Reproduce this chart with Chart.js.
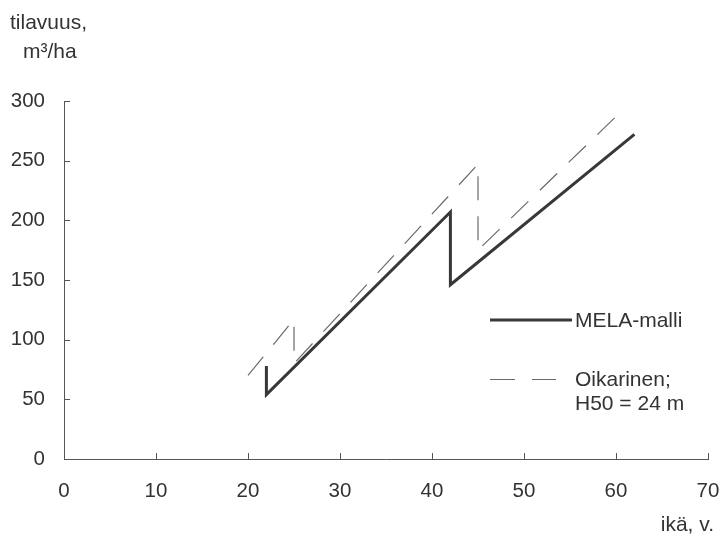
<!DOCTYPE html>
<html>
<head>
<meta charset="utf-8">
<script src="https://cdn.jsdelivr.net/npm/chart.js@4/dist/chart.umd.min.js"></script>
<style>
  html, body { margin: 0; padding: 0; background: #fff; }
</style>
</head>
<body>
<canvas id="volumeChart" width="724" height="535"></canvas>
<script>
// tilavuus (m3/ha) iän mukaan, kaksi mallia
const melaAge = [22, 22, 42, 42, 62];
const melaVolume = [78, 54, 207, 146, 272];
const oikAge = [20, 25, 25, 45, 45, 60];
const oikVolume = [70, 117, 80, 247, 175, 287];

const ageTicks = [0, 10, 20, 30, 40, 50, 60, 70];
const volumeTicks = [0, 50, 100, 150, 200, 250, 300];

const FONT = '"Liberation Sans", Arial, Helvetica, sans-serif';
const TEXT = '#333';
const AXIS = '#555';

const toPoints = (xs, ys) => xs.map((x, i) => ({ x: x, y: ys[i] }));

// short tick marks pointing into the plot, plus the free-standing texts
const decorations = {
    id: 'decorations',
    afterDraw(chart) {
        const { ctx, scales: { x, y } } = chart;
        ctx.save();
        ctx.strokeStyle = AXIS;
        ctx.lineWidth = 1;
        ctx.beginPath();
        ageTicks.slice(1).forEach(v => {
            const px = Math.round(x.getPixelForValue(v)) + 0.5;
            ctx.moveTo(px, y.bottom);
            ctx.lineTo(px, y.bottom - 6);
        });
        volumeTicks.slice(1).forEach(v => {
            const py = Math.round(y.getPixelForValue(v)) + 0.5;
            ctx.moveTo(x.left, py);
            ctx.lineTo(x.left + 6, py);
        });
        ctx.stroke();

        ctx.fillStyle = TEXT;
        ctx.font = '21px ' + FONT;
        ctx.textBaseline = 'alphabetic';
        ctx.textAlign = 'left';
        ctx.fillText('tilavuus,', 10, 29);
        ctx.fillText('m³/ha', 23, 58);
        ctx.textAlign = 'right';
        ctx.fillText('ikä, v.', 714, 531);

        // legend
        const mela = chart.data.datasets[0];
        const oik = chart.data.datasets[1];
        ctx.textAlign = 'left';
        ctx.textBaseline = 'middle';

        ctx.strokeStyle = mela.borderColor;
        ctx.lineWidth = mela.borderWidth;
        ctx.beginPath();
        ctx.moveTo(490, 320);
        ctx.lineTo(572, 320);
        ctx.stroke();
        ctx.fillText('MELA-malli', 575, 321);

        ctx.strokeStyle = oik.borderColor;
        ctx.lineWidth = oik.borderWidth;
        ctx.beginPath();
        ctx.moveTo(490, 379.5);
        ctx.lineTo(515, 379.5);
        ctx.moveTo(532, 379.5);
        ctx.lineTo(556, 379.5);
        ctx.stroke();
        ctx.fillText('Oikarinen;', 575, 380);
        ctx.fillText('H50 = 24 m', 575, 404);
        ctx.restore();
    }
};

new Chart(document.getElementById('volumeChart'), {
    type: 'scatter',
    data: {
        datasets: [
            {
                label: 'MELA-malli',
                data: toPoints(melaAge, melaVolume),
                showLine: true,
                borderColor: '#383838',
                borderWidth: 3,
                pointRadius: 0,
                tension: 0,
                borderJoinStyle: 'miter'
            },
            {
                label: 'Oikarinen; H50 = 24 m',
                data: toPoints(oikAge, oikVolume),
                showLine: true,
                borderColor: '#6a6a6a',
                borderWidth: 1.2,
                borderDash: [24, 16],
                pointRadius: 0,
                tension: 0
            }
        ]
    },
    options: {
        responsive: false,
        animation: false,
        events: [],
        layout: {
            padding: { top: 101, right: 16, left: 0, bottom: 0 }
        },
        plugins: {
            legend: { display: false },
            tooltip: { enabled: false }
        },
        scales: {
            x: {
                type: 'linear',
                min: 0,
                max: 70,
                afterFit(scale) {
                    scale.height = 535 - 101 - 358;
                    scale.paddingLeft = 0;
                    scale.paddingRight = 0;
                },
                grid: { display: false },
                border: { display: true, color: AXIS, width: 1 },
                afterBuildTicks(scale) { scale.ticks = ageTicks.map(v => ({ value: v })); },
                ticks: {
                    color: TEXT,
                    padding: 12,
                    maxRotation: 0,
                    font: { family: FONT, size: 20.5 }
                }
            },
            y: {
                type: 'linear',
                min: 0,
                max: 300,
                afterFit(scale) { scale.width = 64; },
                grid: { display: false },
                border: { display: true, color: AXIS, width: 1 },
                afterBuildTicks(scale) { scale.ticks = volumeTicks.map(v => ({ value: v })); },
                ticks: {
                    color: TEXT,
                    padding: 11,
                    font: { family: FONT, size: 20.5 }
                }
            }
        }
    },
    plugins: [decorations]
});
</script>
</body>
</html>
